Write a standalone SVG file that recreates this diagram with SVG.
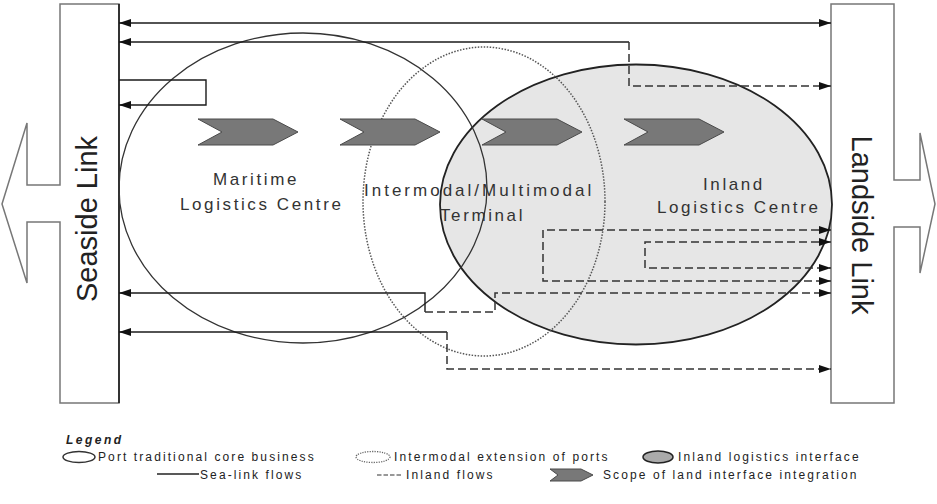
<svg xmlns="http://www.w3.org/2000/svg" width="937" height="504" viewBox="0 0 937 504">
<style>
.box{fill:#fff;stroke:#777;stroke-width:1.5}
.lbl{font-family:"Liberation Sans",Arial,sans-serif;fill:#222}
.big{font-size:29px}
.mid{font-size:17px;letter-spacing:2.6px;fill:#333}
.leg{font-size:12px;letter-spacing:2.1px;fill:#222}
.sea{fill:none;stroke:#1a1a1a;stroke-width:1.4}
.inl{fill:none;stroke:#333;stroke-width:1.5;stroke-dasharray:8 4}
.chev{fill:#787878;stroke:#4a4a4a;stroke-width:1}
</style>
<defs>
<marker id="ah" markerUnits="userSpaceOnUse" viewBox="0 0 12 8" markerWidth="12" markerHeight="8" refX="12" refY="4" orient="auto-start-reverse">
<path d="M0,0 L12,4 L0,8 z" fill="#111"/>
</marker>
</defs>
<rect width="937" height="504" fill="#fff"/>

<g id="seaside-link">
<polygon class="box" points="60,4 119,4 119,403 60,403 60,222 27,222 27,283 2,204 27,123 27,185 60,185"/>
<line x1="119" y1="4" x2="119" y2="403" stroke="#111" stroke-width="1.5"/>
<text class="lbl big" transform="translate(97,219) rotate(-90)" text-anchor="middle">Seaside Link</text>
</g>

<g id="landside-link">
<polygon class="box" points="831,4 894,4 894,180 920,180 920,133 935,204 920,273 920,227 894,227 894,403 831,403"/>
<text class="lbl big" transform="translate(852,225) rotate(90)" text-anchor="middle">Landside Link</text>
</g>

<g id="inland-logistics-centre">
<ellipse cx="636" cy="204.5" rx="196" ry="140" fill="#e6e6e6" stroke="#222" stroke-width="1.8"/>
</g>
<g id="maritime-logistics-centre">
<ellipse cx="303" cy="188" rx="184" ry="155" fill="none" stroke="#333" stroke-width="1.3"/>
</g>
<g id="intermodal-terminal">
<ellipse cx="484" cy="201.5" rx="121" ry="154.5" fill="none" stroke="#555" stroke-width="1.5" stroke-dasharray="1.5 1.5"/>
</g>

<g id="connectors">
<path class="sea" d="M119,23 H831" marker-start="url(#ah)" marker-end="url(#ah)"/>
<path class="sea" d="M629,42 H119" marker-end="url(#ah)"/>
<path class="inl" d="M629,42 V86 H831" marker-end="url(#ah)"/>
<path class="sea" d="M119,80 H206 V105 H119" marker-end="url(#ah)"/>
<path class="sea" d="M425,312 V293 H119" marker-end="url(#ah)"/>
<path class="inl" d="M425,312 H495 V293 H831" marker-end="url(#ah)"/>
<path class="sea" d="M447,332 H119" marker-end="url(#ah)"/>
<path class="inl" d="M447,332 V369 H831" marker-end="url(#ah)"/>
<path class="inl" d="M831,230 H543 V281 H831" marker-start="url(#ah)" marker-end="url(#ah)"/>
<path class="inl" d="M831,242 H645 V268 H831" marker-start="url(#ah)" marker-end="url(#ah)"/>
</g>

<g id="chevrons">
<polygon class="chev" points="198,119 273,119 298,132 273,145 198,145 222,132"/>
<polygon class="chev" points="340,119 415,119 440,132 415,145 340,145 364,132"/>
<polygon class="chev" points="482,119 557,119 582,132 557,145 482,145 506,132"/>
<polygon class="chev" points="624,119 699,119 724,132 699,145 624,145 648,132"/>
</g>

<g id="labels">
<text class="lbl mid" x="213" y="185">Maritime</text>
<text class="lbl mid" x="180" y="210">Logistics Centre</text>
<text class="lbl mid" x="364" y="196" style="letter-spacing:3px">Intermodal/Multimodal</text>
<text class="lbl mid" x="440" y="221">Terminal</text>
<text class="lbl mid" x="703" y="190">Inland</text>
<text class="lbl mid" x="657" y="213">Logistics Centre</text>
</g>

<g id="legend">
<text class="lbl" x="66" y="444" style="font-size:12px;font-weight:bold;font-style:italic;letter-spacing:2.5px">Legend</text>
<ellipse cx="79" cy="457" rx="16" ry="5.5" fill="none" stroke="#333" stroke-width="1.5"/>
<text class="lbl leg" x="98" y="461">Port traditional core business</text>
<ellipse cx="373" cy="457" rx="17" ry="5.5" fill="none" stroke="#666" stroke-width="1.3" stroke-dasharray="1.2 1.2"/>
<text class="lbl leg" x="394" y="461">Intermodal extension of ports</text>
<ellipse cx="658" cy="457" rx="15" ry="6" fill="#aaa" stroke="#222" stroke-width="1.5"/>
<text class="lbl leg" x="678" y="461">Inland logistics interface</text>
<line x1="157" y1="474" x2="199" y2="474" stroke="#222" stroke-width="1.3"/>
<text class="lbl leg" x="200" y="479">Sea-link flows</text>
<line x1="377" y1="475" x2="401" y2="475" stroke="#333" stroke-width="1.2" stroke-dasharray="4.5 2"/>
<text class="lbl leg" x="406" y="479">Inland flows</text>
<polygon class="chev" points="550,469 581,469 593,475 581,481 550,481 558,475"/>
<text class="lbl leg" x="603" y="479">Scope of land interface integration</text>
</g>
</svg>
